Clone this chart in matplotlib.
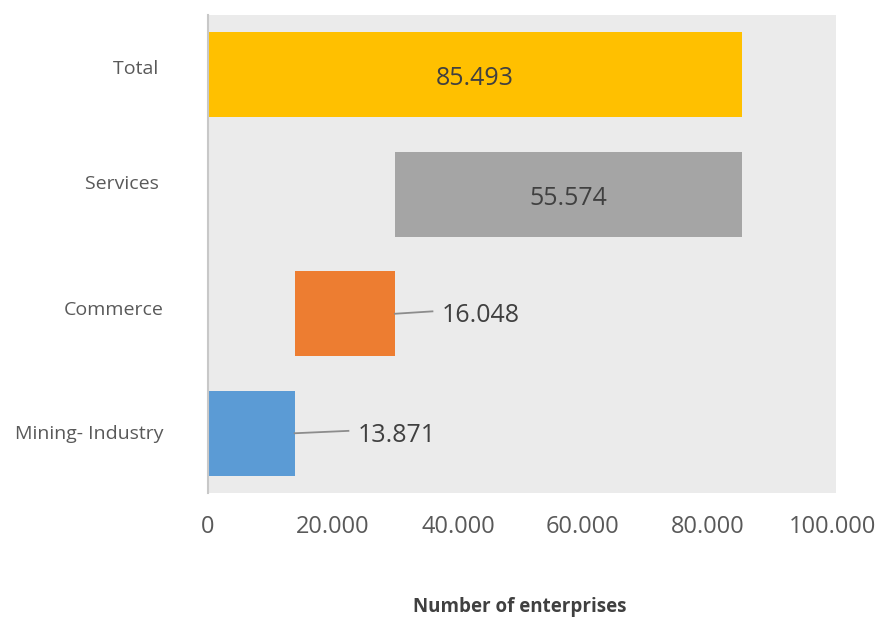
import matplotlib.pyplot as plt
import matplotlib.transforms as mtransforms

plt.rcParams['font.family'] = ['Open Sans', 'DejaVu Sans']

sectors = ["Mining- Industry", "Commerce", "Services ", "Total "]
counts = [13871, 16048, 55574, 85493]
colors = ["#5b9bd5", "#ed7d31", "#a5a5a5", "#ffc000"]
ticks = [0, 20000, 40000, 60000, 80000, 100000]
tick_labels = ["0", "20.000", "40.000", "60.000", "80.000", "100.000"]

# waterfall: each sector starts where the previous one ended, total from zero
starts = []
run = 0
for c in counts[:-1]:
    starts.append(run)
    run += c
starts.append(0)

def fmt(v):
    return "{:,}".format(v).replace(",", ".")

fig = plt.figure(figsize=(8.84, 6.19), dpi=100)
ax = fig.add_axes([208 / 884, 1 - 493 / 619, 628 / 884, 478 / 619])
ax.set_facecolor("#ebebeb")

ypos = list(range(len(sectors)))
ax.barh(ypos, counts, left=starts, height=0.71, color=colors)

ax.set_xlim(0, 100500)
ax.set_ylim(-0.5, 3.5)
ax.set_xticks(ticks)
ax.set_xticklabels(tick_labels)
ax.set_yticks(ypos)
ax.set_yticklabels(sectors)

ax.tick_params(axis='x', length=0, pad=16, labelsize=17, labelcolor="#595959")
ax.tick_params(axis='y', length=0, pad=32, labelsize=14, labelcolor="#595959")
for s in ["top", "right", "bottom"]:
    ax.spines[s].set_visible(False)
ax.spines["left"].set_color("#c8c8c8")
ax.spines["left"].set_linewidth(1.5)

# category labels sit a little above their bars
lift = [1, 6, 12, 8]
for lab, d in zip(ax.get_yticklabels(), lift):
    lab.set_transform(lab.get_transform() +
                      mtransforms.ScaledTranslation(0, d / 100, fig.dpi_scale_trans))

# labels: inside the wide bars, outside with a leader line for the small ones
gap = [8600, 6000]
for y, s, c in zip(ypos, starts, counts):
    end = s + c
    if c > 40000:
        ax.text(s + c / 2, y - 0.035, fmt(c), ha="center", va="center",
                fontsize=18, color="#404040")
    else:
        g = gap[y]
        ax.plot([end, end + g], [y, y + 0.02], color="#8c8c8c", lw=1.3)
        ax.text(end + g + 1500, y - 0.015, fmt(c), ha="left", va="center",
                fontsize=18, color="#404040")

fig.text(520 / 884, 1 - 607 / 619, "Number of enterprises", ha="center",
         va="center", fontsize=13.5, fontweight="bold", color="#404040")

fig.savefig("out.png", dpi=100)
